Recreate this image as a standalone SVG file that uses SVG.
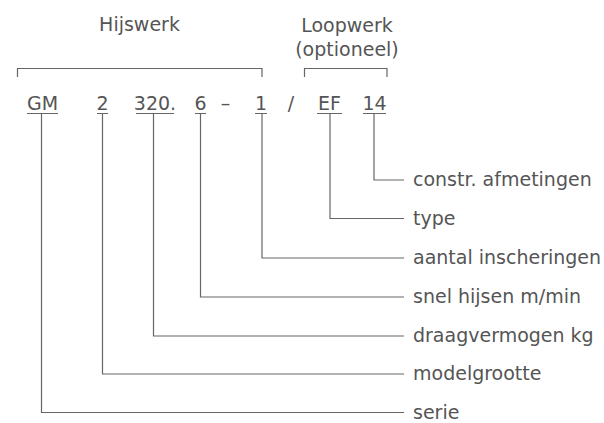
<svg xmlns="http://www.w3.org/2000/svg" width="604" height="423" viewBox="0 0 604 423">
<style>
text{font-family:"DejaVu Sans","Liberation Sans",sans-serif;font-size:19px;fill:#555}
.c{text-anchor:middle}
.ln{fill:none;stroke:#666;stroke-width:1.2}
</style>
<rect width="604" height="423" fill="#fff"/>
<g id="brackets">
<text class="c" x="139.5" y="31">Hijswerk</text>
<path class="ln" d="M17.5,77 V68.5 H262 V77"/>
<text class="c" x="347" y="32">Loopwerk</text>
<text class="c" x="347" y="56">(optioneel)</text>
<path class="ln" d="M304.5,77 V68.5 H387 V77"/>
</g>
<g id="code">
<text class="c" x="42.5" y="110">GM</text>
<text class="c" x="102.5" y="110">2</text>
<text class="c" x="155" y="110">320.</text>
<text class="c" x="200.5" y="110">6</text>
<text class="c" x="225.5" y="110">–</text>
<text class="c" x="261" y="110">1</text>
<text class="c" x="291" y="110">/</text>
<text class="c" x="329.5" y="110">EF</text>
<text class="c" x="374.5" y="110">14</text>
<path class="ln" d="M27,113.5H58 M97,113.5H108 M136,113.5H174 M195,113.5H206 M255,113.5H267 M317,113.5H342 M363,113.5H386"/>
</g>
<g id="connectors">
<path class="ln" d="M374,113.5 V180 H404"/>
<path class="ln" d="M330,113.5 V218.5 H404"/>
<path class="ln" d="M262,113.5 V258 H404"/>
<path class="ln" d="M200.5,113.5 V297 H404"/>
<path class="ln" d="M153.5,113.5 V336 H404"/>
<path class="ln" d="M102.5,113.5 V374 H404"/>
<path class="ln" d="M41.5,113.5 V412.5 H404"/>
</g>
<g id="labels">
<text x="413" y="186">constr. afmetingen</text>
<text x="413" y="224.5">type</text>
<text x="413" y="264">aantal inscheringen</text>
<text x="413" y="303">snel hijsen m/min</text>
<text x="413" y="342">draagvermogen kg</text>
<text x="413" y="380">modelgrootte</text>
<text x="413" y="418.5">serie</text>
</g>
</svg>
